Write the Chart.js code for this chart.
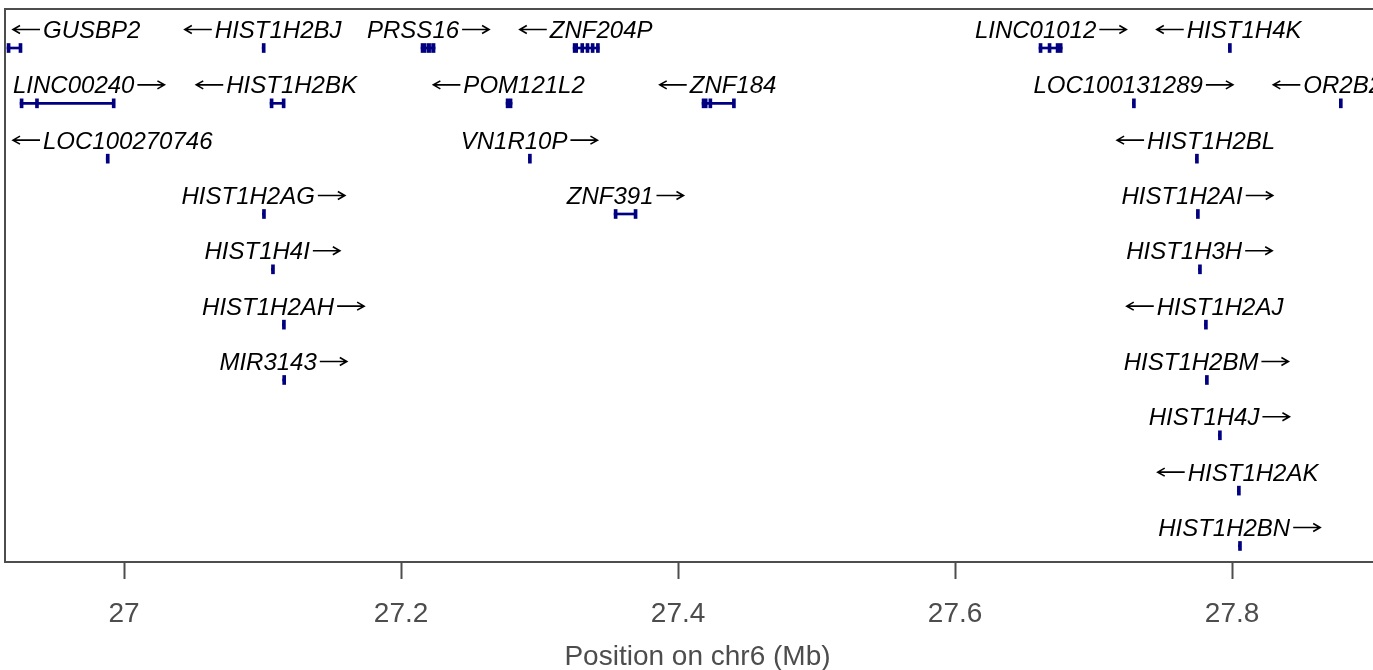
<!DOCTYPE html>
<html>
<head>
<meta charset="utf-8">
<title>Genes on chr6</title>
<script src="https://cdn.jsdelivr.net/npm/chart.js@4.4.1/dist/chart.umd.min.js"></script>
<style>
  html, body { margin: 0; padding: 0; overflow: hidden; background: #fff; }
  canvas { display: block; }
</style>
</head>
<body>
<canvas id="genes" width="1400" height="670"></canvas>
<script>
// gene track, positions in Mb on chr6
const geneNames = [
  'GUSBP2', 'HIST1H2BJ', 'PRSS16', 'ZNF204P', 'LINC01012', 'HIST1H4K',
  'LINC00240', 'HIST1H2BK', 'POM121L2', 'ZNF184', 'LOC100131289', 'OR2B2',
  'LOC100270746', 'VN1R10P', 'HIST1H2BL',
  'HIST1H2AG', 'ZNF391', 'HIST1H2AI',
  'HIST1H4I', 'HIST1H3H',
  'HIST1H2AH', 'HIST1H2AJ',
  'MIR3143', 'HIST1H2BM',
  'HIST1H4J',
  'HIST1H2AK',
  'HIST1H2BN'
];
const geneRows = [
  1, 1, 1, 1, 1, 1,
  2, 2, 2, 2, 2, 2,
  3, 3, 3,
  4, 4, 4,
  5, 5,
  6, 6,
  7, 7,
  8,
  9,
  10
];
const geneStrands = [
  '-', '-', '+', '-', '+', '-',
  '+', '-', '-', '-', '+', '-',
  '-', '+', '-',
  '+', '+', '+',
  '+', '+',
  '+', '-',
  '+', '+',
  '+',
  '-',
  '+'
];
const geneStarts = [
  26.9155, 27.0997, 27.2144, 27.3242, 27.6606, 27.7973,
  26.9249, 27.1054, 27.2758, 27.4173, 27.7280, 27.8774,
  26.9871, 27.2919, 27.7735,
  27.0999, 27.3538, 27.7742,
  27.1064, 27.7757,
  27.1143, 27.7800,
  27.1145, 27.7807,
  27.7901,
  27.8038,
  27.8046
];
const geneEnds = [
  26.9249, 27.1011, 27.2245, 27.3430, 27.6773, 27.7984,
  26.9921, 27.1148, 27.2801, 27.4404, 27.7291, 27.8785,
  26.9882, 27.2929, 27.7745,
  27.1009, 27.3697, 27.7752,
  27.1074, 27.7767,
  27.1153, 27.7810,
  27.1151, 27.7817,
  27.7911,
  27.8048,
  27.8056
];
// exon boundaries per gene
const exonStarts = [
  [26.9155, 26.9241], [27.0997], [27.2144, 27.2187, 27.2220], [27.3242, 27.3297, 27.3335, 27.3372, 27.3410], [27.6606, 27.6671, 27.6729], [27.7973],
  [26.9249, 26.9360, 26.9914], [27.1054, 27.1141], [27.2758], [27.4173, 27.4222, 27.4392], [27.7280], [27.8774],
  [26.9871], [27.2919], [27.7735],
  [27.0999], [27.3538, 27.3682], [27.7742],
  [27.1064], [27.7757],
  [27.1143], [27.7800],
  [27.1145], [27.7807],
  [27.7901],
  [27.8038],
  [27.8046]
];
const exonEnds = [
  [26.9163, 26.9249], [27.1011], [27.2180, 27.2213, 27.2245], [27.3275, 27.3305, 27.3343, 27.3380, 27.3430], [27.6613, 27.6678, 27.6773], [27.7984],
  [26.9256, 26.9367, 26.9921], [27.1061, 27.1148], [27.2801], [27.4210, 27.4230, 27.4404], [27.7291], [27.8785],
  [26.9882], [27.2929], [27.7745],
  [27.1009], [27.3546, 27.3697], [27.7752],
  [27.1074], [27.7767],
  [27.1153], [27.7810],
  [27.1151], [27.7817],
  [27.7911],
  [27.8048],
  [27.8056]
];
const xTicks = [27, 27.2, 27.4, 27.6, 27.8];
const xRange = [26.914, 27.914];
const rowRange = [0.295, 10.29];

const geneColor = '#000080';
const axisColor = '#4d4d4d';
const fontFamily = '"Liberation Sans", Arial, Helvetica, sans-serif';

const intronData = geneNames.map((name, i) => ({ x: [geneStarts[i], geneEnds[i]], y: geneRows[i] }));
const exonData = [];
exonStarts.forEach((starts, i) => {
  starts.forEach((s, j) => exonData.push({ x: [s, exonEnds[i][j]], y: geneRows[i] }));
});

function drawArrow(ctx, from, to, y) {
  const dir = Math.sign(to - from);
  ctx.beginPath();
  ctx.moveTo(from, y);
  ctx.lineTo(to, y);
  ctx.moveTo(to - dir * 7, y - 4);
  ctx.lineTo(to, y);
  ctx.lineTo(to - dir * 7, y + 4);
  ctx.stroke();
}

// gene names with strand arrows above each gene
const geneLabels = {
  id: 'geneLabels',
  afterDatasetsDraw(chart) {
    const { ctx, chartArea, scales: { x, y } } = chart;
    const arrowLen = 27, gap = 3;
    ctx.save();
    ctx.font = 'italic 24px ' + fontFamily;
    ctx.fillStyle = '#000';
    ctx.strokeStyle = '#000';
    ctx.lineWidth = 1.6;
    ctx.textBaseline = 'alphabetic';
    geneNames.forEach((name, i) => {
      const cx = (x.getPixelForValue(geneStarts[i]) + x.getPixelForValue(geneEnds[i])) / 2;
      const base = y.getPixelForValue(geneRows[i]) - 10;
      const tw = ctx.measureText(name).width;
      const total = tw + gap + arrowLen;
      let left = cx - total / 2;
      left = Math.max(chartArea.left + 8, Math.min(left, chartArea.right - 8 - total));
      const ay = base - 8.5;
      if (geneStrands[i] === '+') {
        ctx.fillText(name, left, base);
        drawArrow(ctx, left + tw + gap, left + total, ay);
      } else {
        drawArrow(ctx, left + arrowLen, left, ay);
        ctx.fillText(name, left + arrowLen + gap, base);
      }
    });
    ctx.restore();
  }
};

// frame around the plotting region
const frame = {
  id: 'frame',
  afterDraw(chart) {
    const { ctx, chartArea: a } = chart;
    ctx.save();
    ctx.strokeStyle = axisColor;
    ctx.lineWidth = 2;
    ctx.strokeRect(a.left, a.top, a.right - a.left, a.bottom - a.top);
    ctx.restore();
  }
};

new Chart(document.getElementById('genes'), {
  type: 'bar',
  data: {
    datasets: [
      {
        label: 'introns',
        data: intronData,
        backgroundColor: geneColor,
        barThickness: 2,
        grouped: false,
        borderWidth: 0
      },
      {
        label: 'exons',
        data: exonData,
        backgroundColor: geneColor,
        barThickness: 9,
        minBarLength: 3,
        grouped: false,
        borderWidth: 0
      }
    ]
  },
  options: {
    indexAxis: 'y',
    responsive: false,
    animation: false,
    layout: { padding: { left: 5, top: 9, right: 10, bottom: 0 } },
    plugins: {
      legend: { display: false },
      tooltip: { enabled: false }
    },
    scales: {
      x: {
        type: 'linear',
        min: xRange[0],
        max: xRange[1],
        afterBuildTicks: s => { s.ticks = xTicks.map(v => ({ value: v })); },
        afterFit: s => { s.height = 108; },
        grid: { drawOnChartArea: false, drawTicks: true, tickLength: 17, tickWidth: 2, tickColor: axisColor },
        border: { display: false },
        ticks: {
          padding: 18,
          color: axisColor,
          font: { family: fontFamily, size: 28 },
          callback: v => String(Math.round(v * 10) / 10)
        },
        title: {
          display: true,
          text: 'Position on chr6 (Mb)',
          color: axisColor,
          font: { family: fontFamily, size: 28, lineHeight: 1 },
          padding: { top: 0, bottom: -1 }
        }
      },
      y: {
        type: 'linear',
        display: false,
        reverse: true,
        offset: false,
        min: rowRange[0],
        max: rowRange[1]
      }
    }
  },
  plugins: [geneLabels, frame]
});
</script>
</body>
</html>
